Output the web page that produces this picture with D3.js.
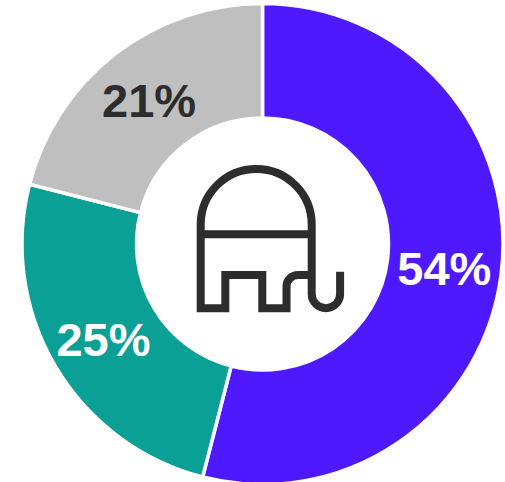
<!DOCTYPE html>
<html><head><meta charset="utf-8">
<script src="https://cdn.jsdelivr.net/npm/d3@7"></script>
<style>html,body{margin:0;padding:0;background:#fff}svg{display:block}</style>
</head><body><svg id="chart" width="505" height="482"></svg>
<script>
const categories = ["A","B","C"];
const shares = [54,25,21];
const labels = ["54%","25%","21%"];
const colors = ["#4f19ff","#0aa096","#bfbfbf"];
const labelColors = ["#ffffff","#ffffff","#2d2d2d"];
const svg = d3.select("#chart");
const g = svg.append("g").attr("transform","translate(262.5,244)");
const pie = d3.pie().sort(null).value(d=>d);
const arc = d3.arc().innerRadius(126).outerRadius(240.5);
g.selectAll("path.slice").data(pie(shares)).join("path").attr("class","slice")
 .attr("d",arc).attr("fill",(d,i)=>colors[i]).attr("stroke","#fff").attr("stroke-width",3.5);
const labelArc = d3.arc().innerRadius(184).outerRadius(184);
g.selectAll("text").data(pie(shares)).join("text")
 .attr("transform",d=>{const c=labelArc.centroid(d);return `translate(${c[0]-0.7},${c[1]+1})`;})
 .attr("text-anchor","middle").attr("dy","0.36em")
 .attr("font-family","Liberation Sans, Arial, sans-serif").attr("font-weight",700).attr("font-size",47)
 .attr("fill",(d,i)=>labelColors[i]).text((d,i)=>labels[i]);
// elephant icon in the hole: body outline with legs, dome, belly line and trunk
svg.append("path").attr("fill","none").attr("stroke","#2d2d2d").attr("stroke-width",8).attr("stroke-linejoin","miter")
 .attr("d","M311.7 275H298A11.5 11.5 0 0 0 286.5 286.5V308.3H262.3V275H225.3V308.3H200.7V224.5"
  +"A55.5 55.5 0 0 1 311.7 224.5V294A14.2 14.2 0 0 0 340.1 294V271.7"
  +"M200.7 234.3H311.7");
</script></body></html>
